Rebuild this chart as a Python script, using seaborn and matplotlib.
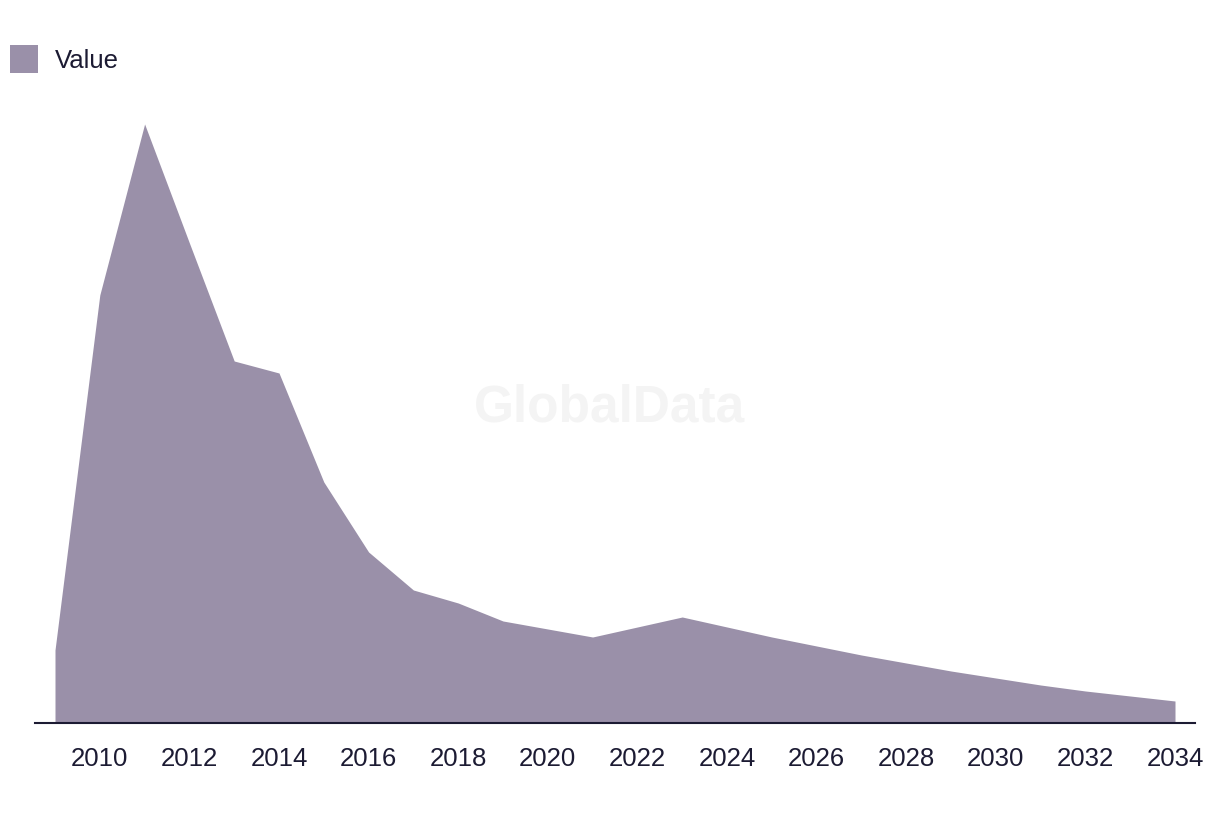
import pandas as pd
import matplotlib
matplotlib.use('Agg')
import matplotlib.pyplot as plt
import seaborn as sns
from matplotlib.patches import Patch

# Data (arbitrary units)
years = list(range(2009, 2035))
values = [73, 428, 599, 480, 362, 350, 241, 171, 133, 120, 102, 94, 86,
          96, 106, 96, 86, 77, 68, 60, 52, 45, 38, 32, 27, 22]
tick_years = list(range(2010, 2035, 2))
series_name = 'Value'

fill_color = '#9a90a9'
text_color = '#1c1b33'

df = pd.DataFrame({'Year': years, series_name: values})

sns.set_theme(style='white')
plt.rcParams['font.family'] = ['Liberation Sans', 'DejaVu Sans']

fig = plt.figure(figsize=(12.2, 8.14), dpi=100)
ax = fig.add_axes([35 / 1220, 91 / 814, 1160 / 1220, 623 / 814])

# Watermark
fig.text(610 / 1220, 1 - 408 / 814, 'GlobalData', ha='center', va='center',
         fontsize=37, fontweight='bold', color='#f4f4f4', zorder=0)

sns.lineplot(data=df, x='Year', y=series_name, ax=ax, color=fill_color,
             linewidth=0, legend=False)
ax.fill_between(df['Year'], df[series_name], 0, color=fill_color,
                linewidth=0, zorder=2)

ax.set_xlim(2009 - 20 / 44.8, 2034 + 20 / 44.8)
ax.set_ylim(0, 623)
ax.set_xticks(tick_years)
ax.set_xticklabels([str(y) for y in tick_years])
ax.set_yticks([])
ax.set_xlabel('')
ax.set_ylabel('')
ax.patch.set_alpha(0)

for side in ['top', 'right', 'left']:
    ax.spines[side].set_visible(False)
ax.spines['bottom'].set_color(text_color)
ax.spines['bottom'].set_linewidth(1.5)
ax.spines['bottom'].set_zorder(5)
ax.tick_params(axis='x', length=0, pad=17, labelsize=18.5, labelcolor=text_color)

fig.legend(handles=[Patch(facecolor=fill_color, edgecolor='none', label=series_name)],
           loc='upper left', bbox_to_anchor=(10 / 1220, 1 - 45 / 814),
           frameon=False, fontsize=18.5, handlelength=1.09, handleheight=1.30,
           handletextpad=0.66, borderpad=0, borderaxespad=0, labelcolor=text_color)

fig.savefig('out.png', dpi=100)
